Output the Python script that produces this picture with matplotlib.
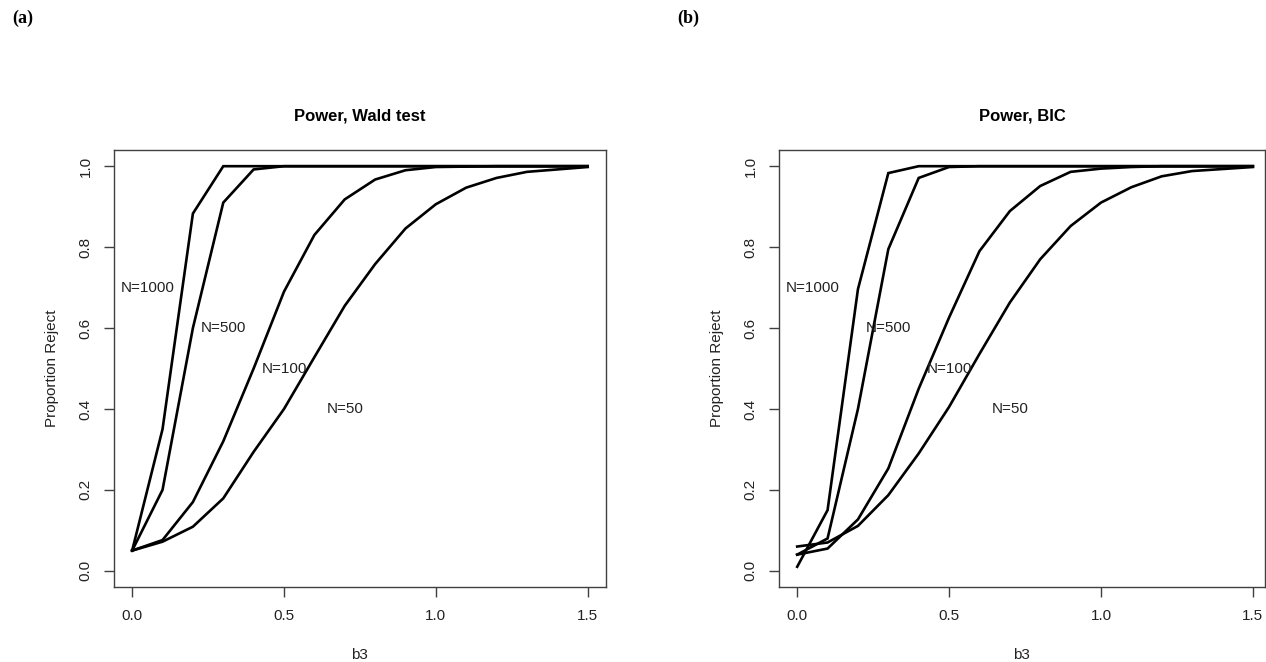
import matplotlib
matplotlib.use("Agg")
import matplotlib.pyplot as plt
import numpy as np

plt.rcParams['font.family'] = ['Liberation Sans', 'DejaVu Sans']

# effect size grid
b3 = [0.0, 0.1, 0.2, 0.3, 0.4, 0.5, 0.6, 0.7, 0.8, 0.9, 1.0, 1.1, 1.2, 1.3, 1.4, 1.5]

# (a) power of the Wald test
wald_n50 = [0.05, 0.072, 0.109, 0.179, 0.294, 0.40, 0.528, 0.655, 0.758, 0.846,
            0.906, 0.947, 0.971, 0.986, 0.992, 0.998]
wald_n100 = [0.05, 0.076, 0.17, 0.32, 0.50, 0.69, 0.83, 0.918, 0.967, 0.99,
             0.998, 0.999, 1.0, 1.0, 1.0, 1.0]
wald_n500 = [0.05, 0.20, 0.60, 0.91, 0.992, 1.0, 1.0, 1.0, 1.0, 1.0,
             1.0, 1.0, 1.0, 1.0, 1.0, 1.0]
wald_n1000 = [0.05, 0.35, 0.883, 1.0, 1.0, 1.0, 1.0, 1.0, 1.0, 1.0,
              1.0, 1.0, 1.0, 1.0, 1.0, 1.0]

# (b) power using BIC
bic_n50 = [0.06, 0.07, 0.111, 0.187, 0.29, 0.405, 0.536, 0.663, 0.77, 0.852,
           0.91, 0.948, 0.975, 0.988, 0.993, 0.998]
bic_n100 = [0.04, 0.055, 0.127, 0.253, 0.45, 0.626, 0.79, 0.889, 0.951, 0.986,
            0.994, 0.998, 1.0, 1.0, 1.0, 1.0]
bic_n500 = [0.04, 0.08, 0.40, 0.795, 0.971, 0.998, 1.0, 1.0, 1.0, 1.0,
            1.0, 1.0, 1.0, 1.0, 1.0, 1.0]
bic_n1000 = [0.01, 0.15, 0.696, 0.983, 1.0, 1.0, 1.0, 1.0, 1.0, 1.0,
             1.0, 1.0, 1.0, 1.0, 1.0, 1.0]

labels = ["N=50", "N=100", "N=500", "N=1000"]
label_x = [0.7, 0.5, 0.3, 0.05]
label_y = [0.4, 0.5, 0.6, 0.7]

fig = plt.figure(figsize=(12.66, 6.62), dpi=100)
ax1 = fig.add_axes([0.0900, 0.1133, 0.3886, 0.6601])
ax2 = fig.add_axes([0.6153, 0.1133, 0.3839, 0.6601])

panels = [
    (ax1, "Power, Wald test", [wald_n50, wald_n100, wald_n500, wald_n1000], (-0.06, 1.56)),
    (ax2, "Power, BIC", [bic_n50, bic_n100, bic_n500, bic_n1000], (-0.06, 1.54)),
]

for ax, title, series, xlim in panels:
    for ys in series:
        ax.plot(b3, ys, color="black", lw=1.9, solid_joinstyle="miter")
    for lab, lx, ly in zip(labels, label_x, label_y):
        ax.text(lx, ly, lab, ha="center", va="center", fontsize=11, color="#222222")
    ax.set_xlim(*xlim)
    ax.set_ylim(-0.04, 1.04)
    ax.set_xticks([0.0, 0.5, 1.0, 1.5])
    ax.set_xticklabels(["0.0", "0.5", "1.0", "1.5"])
    ax.set_yticks([0.0, 0.2, 0.4, 0.6, 0.8, 1.0])
    ax.set_yticklabels(["0.0", "0.2", "0.4", "0.6", "0.8", "1.0"],
                       rotation=90, va="center")
    ax.tick_params(direction="out", length=7.5, width=1, color="#404040",
                   labelsize=11, labelcolor="#222222", pad=8)
    for sp in ax.spines.values():
        sp.set_color("#404040")
        sp.set_linewidth(1.0)
    ax.set_xlabel("b3", fontsize=11, color="#222222", labelpad=18)
    ax.set_ylabel("Proportion Reject", fontsize=11, color="#222222", labelpad=14)
    ax.set_title(title, fontsize=12, fontweight="bold", pad=21)

fig.text(0.010, 0.973, "(a)", fontsize=13, fontweight="bold",
         family="Liberation Serif", va="center")
fig.text(0.535, 0.973, "(b)", fontsize=13, fontweight="bold",
         family="Liberation Serif", va="center")

fig.savefig("out.png", dpi=100, facecolor="white")
